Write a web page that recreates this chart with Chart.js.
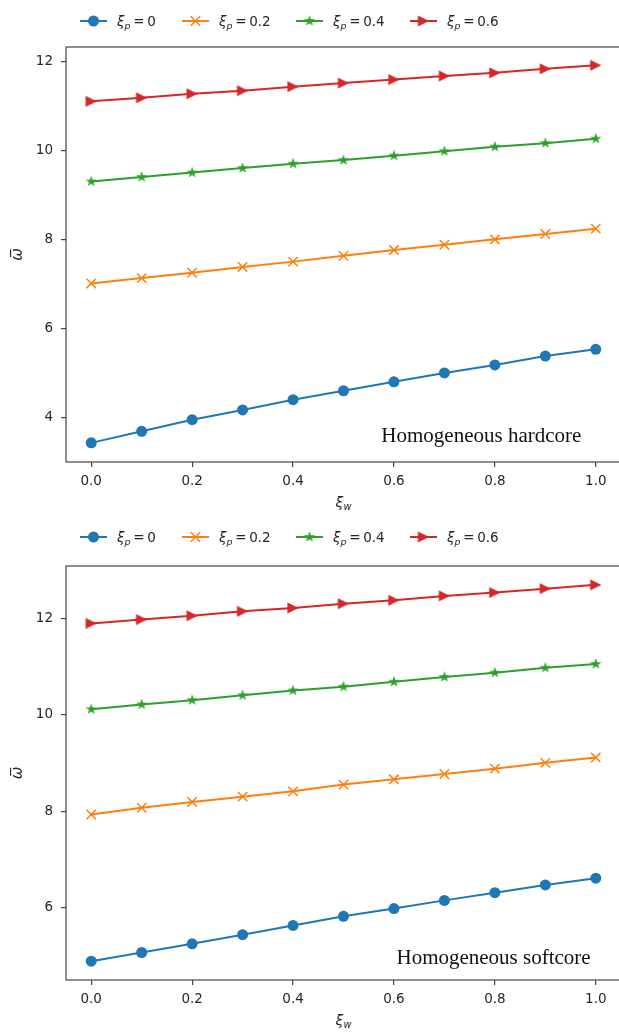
<!DOCTYPE html>
<html>
<head>
<meta charset="utf-8">
<script src="https://cdn.jsdelivr.net/npm/chart.js@4.4.1/dist/chart.umd.min.js"></script>
<style>
  html, body { margin: 0; padding: 0; background: #fff; overflow: hidden; }
  #wrap { position: relative; width: 619px; height: 1032px; overflow: hidden; }
  .box { position: absolute; left: 0; width: 640px; height: 516px; }
</style>
</head>
<body>
<div id="wrap">
  <div class="box" style="top:0"><canvas id="hardChart"></canvas></div>
  <div class="box" style="top:516px"><canvas id="softChart"></canvas></div>
</div>

<script>
/*************************************************
 * DATA
 *************************************************/
const xValues = [0, 0.1, 0.2, 0.3, 0.4, 0.5, 0.6, 0.7, 0.8, 0.9, 1.0];
const pValues = ["0", "0.2", "0.4", "0.6"];
const xTicks = [0, 0.2, 0.4, 0.6, 0.8, 1.0];

// homogeneous hardcore
const hardP0  = [3.43, 3.69, 3.95, 4.17, 4.40, 4.60, 4.80, 5.00, 5.18, 5.38, 5.53];
const hardP02 = [7.01, 7.13, 7.25, 7.38, 7.50, 7.63, 7.76, 7.88, 8.00, 8.12, 8.24];
const hardP04 = [9.30, 9.40, 9.50, 9.60, 9.70, 9.78, 9.88, 9.98, 10.08, 10.16, 10.26];
const hardP06 = [11.10, 11.18, 11.27, 11.34, 11.43, 11.51, 11.59, 11.67, 11.74, 11.83, 11.91];
const hardYTicks = [4, 6, 8, 10, 12];

// homogeneous softcore
const softP0  = [4.89, 5.07, 5.25, 5.44, 5.63, 5.82, 5.98, 6.15, 6.31, 6.47, 6.61];
const softP02 = [7.93, 8.07, 8.19, 8.30, 8.41, 8.55, 8.66, 8.77, 8.88, 9.00, 9.11];
const softP04 = [10.11, 10.21, 10.30, 10.40, 10.50, 10.58, 10.68, 10.78, 10.87, 10.97, 11.05];
const softP06 = [11.89, 11.97, 12.05, 12.14, 12.21, 12.30, 12.37, 12.46, 12.53, 12.61, 12.69];
const softYTicks = [6, 8, 10, 12];

/*************************************************
 * STYLE
 *************************************************/
const COLORS = ["#1f77b4", "#ff7f0e", "#2ca02c", "#d62728"];
const FONT = '"DejaVu Sans", sans-serif';
const INK = "#262626";
const FRAME = "#444";

Chart.defaults.font.family = FONT;

// filled star and right-pointing triangle, like matplotlib '*' and '>'
function makeMarker(kind, color) {
  const s = 16;
  const c = document.createElement("canvas");
  c.width = c.height = s;
  const g = c.getContext("2d");
  g.translate(s / 2, s / 2);
  g.fillStyle = color;
  g.beginPath();
  if (kind === "star") {
    const ro = 6, ri = ro * 0.382;
    for (let k = 0; k < 10; k++) {
      const r = k % 2 ? ri : ro;
      const a = -Math.PI / 2 + k * Math.PI / 5;
      g.lineTo(r * Math.cos(a), r * Math.sin(a));
    }
  } else {
    g.moveTo(5.6, 0);
    g.lineTo(-5.6, -5.6);
    g.lineTo(-5.6, 5.6);
  }
  g.closePath();
  g.fill();
  return c;
}

const MARKERS = [
  { pointStyle: "circle", pointRadius: 5.5, pointBorderWidth: 0 },
  { pointStyle: "crossRot", pointRadius: 6.6, pointBorderWidth: 1.5 },
  { pointStyle: makeMarker("star", COLORS[2]), pointRadius: 5, pointBorderWidth: 0 },
  { pointStyle: makeMarker("tri", COLORS[3]), pointRadius: 5, pointBorderWidth: 0 }
];

/*************************************************
 * TEXT HELPERS
 *************************************************/
// base + subscript (mathtext style) + plain rest
function drawSub(ctx, x, y, base, sub, rest, size, align) {
  const fBase = `italic ${size}px ${FONT}`;
  const fSub = `italic ${size * 0.7}px ${FONT}`;
  const fRest = `${size}px ${FONT}`;
  ctx.font = fBase; const wb = ctx.measureText(base).width;
  ctx.font = fSub; const ws = ctx.measureText(sub).width;
  ctx.font = fRest; const wr = ctx.measureText(rest).width;
  if (align === "center") x -= (wb + ws + wr) / 2;
  ctx.textAlign = "left";
  ctx.textBaseline = "alphabetic";
  ctx.fillStyle = INK;
  ctx.font = fBase; ctx.fillText(base, x, y);
  ctx.font = fSub; ctx.fillText(sub, x + wb, y + size * 0.22);
  ctx.font = fRest; ctx.fillText(rest, x + wb + ws, y);
}

const mathPlugin = {
  id: "mathText",
  afterDraw(chart, args, opts) {
    const ctx = chart.ctx;
    const a = chart.chartArea;
    ctx.save();

    // full frame
    ctx.strokeStyle = FRAME;
    ctx.lineWidth = 1.2;
    ctx.strokeRect(a.left, a.top, a.right - a.left, a.bottom - a.top);

    // legend row
    chart.data.datasets.forEach((ds, i) => {
      const x0 = opts.legendX[i], y = opts.legendY;
      ctx.strokeStyle = ds.borderColor;
      ctx.lineWidth = 2;
      ctx.beginPath();
      ctx.moveTo(x0, y);
      ctx.lineTo(x0 + 27, y);
      ctx.stroke();
      ctx.fillStyle = ds.pointBackgroundColor;
      ctx.strokeStyle = ds.pointBorderColor;
      ctx.lineWidth = ds.pointBorderWidth;
      Chart.helpers.drawPoint(ctx, {
        pointStyle: ds.pointStyle,
        radius: ds.pointRadius,
        rotation: 0,
        borderWidth: ds.pointBorderWidth
      }, x0 + 13.5, y);
      drawSub(ctx, x0 + 37, y + 5, "ξ", "p", "\u2009=\u2009" + pValues[i], 13.5);
    });

    // x axis title
    drawSub(ctx, (a.left + a.right) / 2, a.bottom + 45, "ξ", "w", "", 14, "center");

    // annotation
    const n = opts.note;
    ctx.font = `21px "Liberation Serif", serif`;
    ctx.fillStyle = "#111";
    ctx.textAlign = "left";
    ctx.textBaseline = "alphabetic";
    ctx.fillText(n.text, chart.scales.x.getPixelForValue(n.x), chart.scales.y.getPixelForValue(n.y));

    ctx.restore();
  }
};

/*************************************************
 * CHART RENDERER
 *************************************************/
function renderPanel(id, series, yTicks, cfg) {
  const el = document.getElementById(id);
  if (!el) return;

  const datasets = series.map((vals, i) => ({
    label: "ξp = " + pValues[i],
    data: vals.map((v, k) => ({ x: xValues[k], y: v })),
    borderColor: COLORS[i],
    backgroundColor: COLORS[i],
    pointBackgroundColor: COLORS[i],
    pointBorderColor: COLORS[i],
    borderWidth: 2,
    tension: 0,
    ...MARKERS[i]
  }));

  const tickFont = { family: FONT, size: 13.5 };
  const grid = { display: true, drawOnChartArea: false, drawTicks: true, tickLength: 5, color: FRAME, lineWidth: 1.2 };

  new Chart(el, {
    type: "line",
    data: { datasets },
    options: {
      responsive: true,
      maintainAspectRatio: false,
      animation: false,
      events: [],
      layout: { padding: { top: cfg.top, left: 0, right: 19, bottom: 0 } },
      plugins: {
        legend: { display: false },
        tooltip: { enabled: false },
        mathText: cfg.text
      },
      scales: {
        x: {
          type: "linear",
          min: -0.05,
          max: 1.05,
          afterBuildTicks: s => { s.ticks = xTicks.map(v => ({ value: v })); },
          afterFit: s => { s.height = cfg.xAxisH; },
          ticks: {
            callback: v => v.toFixed(1),
            font: tickFont, color: INK, padding: 6,
            maxRotation: 0, autoSkip: false
          },
          grid,
          border: { display: false }
        },
        y: {
          min: cfg.yMin,
          max: cfg.yMax,
          afterBuildTicks: s => { s.ticks = yTicks.map(v => ({ value: v })); },
          afterFit: s => { s.width = 66; },
          ticks: { callback: v => String(v), font: tickFont, color: INK, padding: 8 },
          grid,
          border: { display: false },
          title: {
            display: true,
            text: "ω̅",
            color: INK,
            font: { family: FONT, size: 15, style: "italic" },
            padding: { top: 9, bottom: 0 }
          }
        }
      }
    },
    plugins: [mathPlugin]
  });
}

/*************************************************
 * DOM READY
 *************************************************/
document.addEventListener("DOMContentLoaded", () => {
  renderPanel("hardChart", [hardP0, hardP02, hardP04, hardP06], hardYTicks, {
    top: 47, xAxisH: 54, yMin: 3.0, yMax: 12.32,
    text: {
      legendX: [80, 182, 296, 410], legendY: 21,
      note: { text: "Homogeneous hardcore", x: 0.575, y: 3.44 }
    }
  });

  renderPanel("softChart", [softP0, softP02, softP04, softP06], softYTicks, {
    top: 50, xAxisH: 52, yMin: 4.5, yMax: 13.08,
    text: {
      legendX: [80, 182, 296, 410], legendY: 21,
      note: { text: "Homogeneous softcore", x: 0.605, y: 4.83 }
    }
  });
});
</script>
</body>
</html>
